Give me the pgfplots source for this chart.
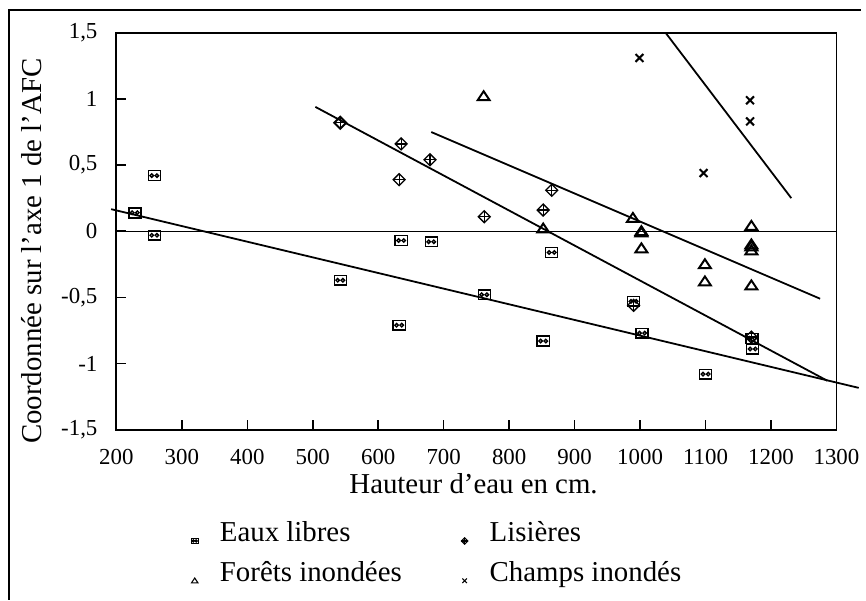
\documentclass[border=0pt]{standalone}
\usepackage{fontspec}
\setmainfont{Liberation Serif}
\usepackage{pgfplots}
\pgfplotsset{compat=1.18}

\pgfdeclareplotmark{eaux}{%
  \pgfpathrectangle{\pgfpoint{-1.05\pgfplotmarksize}{-0.85\pgfplotmarksize}}{\pgfpoint{2.1\pgfplotmarksize}{1.7\pgfplotmarksize}}%
  \pgfusepathqstroke
  \pgfsetlinewidth{0.7pt}%
  \pgfpathcircle{\pgfpoint{-0.45\pgfplotmarksize}{0pt}}{0.3\pgfplotmarksize}%
  \pgfpathcircle{\pgfpoint{0.45\pgfplotmarksize}{0pt}}{0.3\pgfplotmarksize}%
  \pgfusepathqstroke
}
\pgfdeclareplotmark{lisiere}{%
  \pgfpathmoveto{\pgfpoint{-\pgfplotmarksize}{0pt}}%
  \pgfpathlineto{\pgfpoint{0pt}{\pgfplotmarksize}}%
  \pgfpathlineto{\pgfpoint{\pgfplotmarksize}{0pt}}%
  \pgfpathlineto{\pgfpoint{0pt}{-\pgfplotmarksize}}%
  \pgfpathclose
  \pgfusepathqstroke
  \pgfsetlinewidth{0.65pt}%
  \pgfpathmoveto{\pgfpoint{-\pgfplotmarksize}{0pt}}%
  \pgfpathlineto{\pgfpoint{\pgfplotmarksize}{0pt}}%
  \pgfpathmoveto{\pgfpoint{0pt}{-\pgfplotmarksize}}%
  \pgfpathlineto{\pgfpoint{0pt}{\pgfplotmarksize}}%
  \pgfusepathqstroke
}
\pgfdeclareplotmark{foret}{%
  \pgfpathmoveto{\pgfpoint{-\pgfplotmarksize}{-0.65\pgfplotmarksize}}%
  \pgfpathlineto{\pgfpoint{\pgfplotmarksize}{-0.65\pgfplotmarksize}}%
  \pgfpathlineto{\pgfpoint{0pt}{0.85\pgfplotmarksize}}%
  \pgfpathclose
  \pgfusepathqstroke
}

\begin{document}
\begin{tikzpicture}
\begin{axis}[
  scale only axis, width=362pt, height=199.5pt,
  xmin=200, xmax=1300, ymin=-1.5, ymax=1.5,
  xtick={200,300,...,1300}, ytick={-1.5,-1,-0.5,0,0.5,1,1.5},
  tick pos=left, tick align=inside, major tick length=5pt,
  axis line style={line width=0.9pt},
  every tick/.style={line width=0.8pt, black},
  /pgf/number format/use comma,
  /pgf/number format/1000 sep={},
  /pgf/number format/assume math mode=true,
  ticklabel style={font=\fontsize{11.5}{13}\selectfont},
  yticklabel style={xshift=-6pt},
  xticklabel style={yshift=-6.5pt},
  xlabel={Hauteur d'eau en cm.},
  xlabel style={at={(rel axis cs:0.496,-0.160)}, anchor=base, font=\fontsize{14.5}{17}\selectfont},
  ylabel={Coordonnée sur l'axe 1 de l'AFC},
  ylabel style={at={(rel axis cs:-0.1036,0.45)}, anchor=base, rotate=0, font=\fontsize{14.5}{17}\selectfont},
  clip=false,
  legend columns=2,
  legend cell align=left,
  legend image code/.code={\draw[#1, mark size=1.6pt, mark options={line width=0.55pt}] plot coordinates {(0pt,-3.5pt)};},
  legend style={draw=none, fill=none, at={(rel axis cs:0.1036,-0.218)}, anchor=north west, inner sep=0pt,
    font=\fontsize{14.5}{17}\selectfont,
    nodes={inner sep=2pt, text height=10.5pt, text depth=3pt},
    /tikz/every odd column/.style={column sep=9pt},
    /tikz/every even column/.style={column sep=28pt},
    row sep=2.5pt},
]
% bounding box and frame
\path (rel axis cs:-0.1616,-0.4286) rectangle (rel axis cs:1.0345,1.0827);
\draw[line width=0.75pt] (rel axis cs:-0.1492,-0.4286) -- (rel axis cs:-0.1492,1.0576) -- (rel axis cs:1.0345,1.0576);

\addplot[only marks, mark=eaux, mark size=2.9pt, mark options={line width=0.95pt}] coordinates {
 (228,0.14) (258,0.42) (258,-0.03) (635,-0.07) (681,-0.08) (542,-0.37) (632,-0.71)
 (762,-0.48) (865,-0.16) (852,-0.83) (1003,-0.77) (1100,-1.08) (1172,-0.89) (1171,-0.81) (990,-0.53)
};
\addlegendentry{Eaux libres}
\addplot[only marks, mark=lisiere, mark size=3pt, mark options={line width=0.95pt}] coordinates {
 (542,0.82) (635,0.66) (679,0.54) (632,0.39) (762,0.11) (865,0.31) (852,0.16) (990,-0.56) (1170,-0.80)
};
\addlegendentry{Lisières}
\addplot[only marks, mark=foret, mark size=3pt, mark options={line width=1pt}] coordinates {
 (761,1.02) (852,0.02) (989,0.10) (1002,0.0) (1002,-0.01) (1002,-0.13) (1099,-0.25) (1099,-0.38)
 (1170,0.04) (1170,-0.10) (1170,-0.115) (1170,-0.145) (1170,-0.41)
};
\addlegendentry{Forêts inondées}
\addplot[only marks, mark=x, mark size=2.8pt, mark options={line width=1pt}] coordinates {
 (999,1.31) (1168,0.99) (1168,0.83) (1097,0.44)
};
\addlegendentry{Champs inondés}

% zero line and regression lines
\addplot[forget plot, line width=0.6pt] coordinates {(200,0) (1300,0)};
\addplot[forget plot, line width=0.9pt] coordinates {(192,0.167) (1334,-1.184)};
\addplot[forget plot, line width=0.9pt] coordinates {(504,0.94) (1286,-1.13)};
\addplot[forget plot, line width=0.9pt] coordinates {(681,0.75) (1275,-0.51)};
\addplot[forget plot, line width=0.9pt] coordinates {(1039,1.5) (1231,0.25)};
\end{axis}
\end{tikzpicture}
\end{document}
